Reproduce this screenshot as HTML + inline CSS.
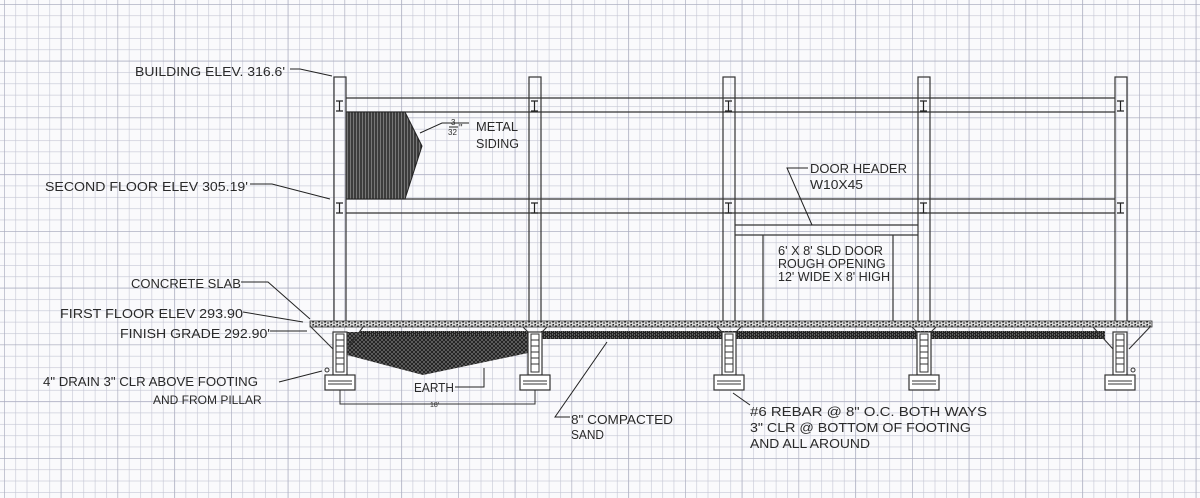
<!DOCTYPE html>
<html><head><meta charset="utf-8"><style>
html,body{margin:0;padding:0;background:#fff}
svg{display:block}
text{font-family:"Liberation Sans",sans-serif;fill:#2a2a2a;font-size:12.5px}
</style></head><body>
<svg width="1200" height="498" viewBox="0 0 1200 498" xmlns="http://www.w3.org/2000/svg">
<defs>
<pattern id="g" x="4" y="4" width="11.35" height="11.35" patternUnits="userSpaceOnUse">
<path d="M0 0H11.35M0 0V11.35" stroke="#c4c6d4" stroke-width="1.2" fill="none"/>
</pattern>
<pattern id="G" x="4" y="4" width="56.75" height="56.75" patternUnits="userSpaceOnUse">
<path d="M0 0H56.75M0 0V56.75" stroke="#a8aabd" stroke-width="1.2" fill="none"/>
</pattern>
<pattern id="vh" width="3" height="10" patternUnits="userSpaceOnUse">
<rect width="3" height="10" fill="#777"/><path d="M1 0V10" stroke="#222" stroke-width="1.4"/>
</pattern>
<pattern id="earth" width="4" height="4" patternUnits="userSpaceOnUse">
<rect width="4" height="4" fill="#6a6a6a"/><path d="M0 0L4 4M4 0L0 4" stroke="#1a1a1a" stroke-width="0.9"/>
</pattern>
<pattern id="conc" width="6" height="3" patternUnits="userSpaceOnUse">
<rect width="6" height="3" fill="#d8d8d8"/><path d="M0 1H2M3 2H5M1 0.5h1" stroke="#222" stroke-width="1"/>
</pattern>
<pattern id="sand" width="4" height="3" patternUnits="userSpaceOnUse">
<rect width="4" height="3" fill="#222"/><path d="M0 1H1M2 2H3" stroke="#ccc" stroke-width="0.8"/>
</pattern>
<g id="col"><rect x="0" y="0" width="12" height="245" fill="none" stroke="#333" stroke-width="1.2"/>
<path d="M2 24H9M5.5 24V34M2 34H9M2 126H9M5.5 126V136M2 136H9" stroke="#222" stroke-width="1.2"/></g>
<g id="pier"><rect x="0" y="0" width="14" height="43" fill="#fff" stroke="#333" stroke-width="1.2"/>
<rect x="3" y="2" width="8" height="38" fill="none" stroke="#333"/>
<path d="M3 8H11M3 14H11M3 20H11M3 26H11M3 32H11" stroke="#333"/>
<rect x="-8" y="43" width="30" height="15" fill="#fff" stroke="#333" stroke-width="1.2"/>
<path d="M-5 49H19M-5 52H19" stroke="#333"/></g>
</defs>
<rect width="1200" height="498" fill="#fafafc"/>
<rect width="1200" height="498" fill="url(#g)"/>
<rect width="1200" height="498" fill="url(#G)"/>

<g stroke="#333" stroke-width="1.2">
<path d="M346 98H1115M346 112H1115M346 199H1115M346 213H1115"/>
<path d="M735 225H918M735 235H918M763 235V321M893 235V321"/>
</g>
<path d="M346 112H405L422 146L405 199H346Z" fill="url(#vh)" stroke="#222"/>
<use href="#col" x="334" y="77"/>
<use href="#col" x="529" y="77"/>
<use href="#col" x="723" y="77"/>
<use href="#col" x="918" y="77"/>
<use href="#col" x="1115" y="77"/>

<path d="M347 332H528V353L423 375L347 355Z" fill="url(#earth)"/>
<rect x="541" y="331" width="564" height="8" fill="url(#sand)"/>
<rect x="360" y="331" width="168" height="5" fill="url(#sand)"/>
<rect x="310" y="321" width="842" height="6" fill="url(#conc)" stroke="#333" stroke-width="0.8"/>
<g stroke="#333" stroke-width="1.1" fill="none">
<path d="M311 327L333 349M363 327L347 349"/>
<path d="M1093 327L1113 349M1150 327L1129 349"/>
<path d="M523 327L529 333M547 327L541 333M717 327L723 333M741 327L735 333M912 327L918 333M936 327L930 333"/>
</g>
<use href="#pier" x="333" y="332"/>
<use href="#pier" x="528" y="332"/>
<use href="#pier" x="722" y="332"/>
<use href="#pier" x="917" y="332"/>
<use href="#pier" x="1113" y="332"/>
<circle cx="327" cy="370" r="2" fill="none" stroke="#333"/>
<circle cx="1133" cy="370" r="2" fill="none" stroke="#333"/>

<path d="M340 390V404H535V390" stroke="#333" fill="none"/>
<text x="430" y="407" style="font-size:7px">18'</text>

<g stroke="#222" stroke-width="1" fill="none">
<path d="M290 69H300L332 76"/>
<path d="M250 184H272L330 199"/>
<path d="M241 282H268L310 319"/>
<path d="M243 312L303 322"/>
<path d="M270 331H307"/>
<path d="M279 382L322 371"/>
<path d="M469 123H442L420 133"/>
<path d="M808 168H787L812 225"/>
<path d="M455 387H484V368"/>
<path d="M570 417H555L607 342"/>
<path d="M750 405L733 393"/>
</g>

<text x="135" y="76" textLength="150" lengthAdjust="spacingAndGlyphs">BUILDING ELEV. 316.6'</text>
<text x="45" y="191" textLength="203" lengthAdjust="spacingAndGlyphs">SECOND FLOOR ELEV 305.19'</text>
<text x="131" y="288" textLength="110" lengthAdjust="spacingAndGlyphs">CONCRETE SLAB</text>
<text x="60" y="318" textLength="183" lengthAdjust="spacingAndGlyphs">FIRST FLOOR ELEV 293.90</text>
<text x="120" y="338" textLength="150" lengthAdjust="spacingAndGlyphs">FINISH GRADE 292.90'</text>
<text x="43" y="386" textLength="215" lengthAdjust="spacingAndGlyphs">4" DRAIN 3" CLR ABOVE FOOTING</text>
<text x="153" y="404" style="font-size:12px">AND FROM PILLAR</text>
<text x="451" y="125" style="font-size:8px">3</text>
<path d="M449 127H458" stroke="#222"/>
<text x="448" y="135" style="font-size:8px">32</text>
<text x="459" y="131" style="font-size:10px">"</text>
<text x="476" y="131" textLength="42" lengthAdjust="spacingAndGlyphs">METAL</text>
<text x="476" y="148" textLength="43" lengthAdjust="spacingAndGlyphs">SIDING</text>
<text x="810" y="173" textLength="97" lengthAdjust="spacingAndGlyphs">DOOR HEADER</text>
<text x="810" y="189" textLength="53" lengthAdjust="spacingAndGlyphs">W10X45</text>
<g style="font-size:10.5px">
<text x="778" y="255" textLength="105" lengthAdjust="spacingAndGlyphs">6' X 8' SLD DOOR</text>
<text x="778" y="268">ROUGH OPENING</text>
<text x="778" y="281" textLength="112" lengthAdjust="spacingAndGlyphs">12' WIDE X 8' HIGH</text>
</g>
<text x="414" y="392" textLength="40" lengthAdjust="spacingAndGlyphs">EARTH</text>
<text x="571" y="424" textLength="102" lengthAdjust="spacingAndGlyphs">8" COMPACTED</text>
<text x="571" y="439" textLength="33" lengthAdjust="spacingAndGlyphs">SAND</text>
<text x="750" y="416" textLength="237" lengthAdjust="spacingAndGlyphs">#6 REBAR @ 8" O.C. BOTH WAYS</text>
<text x="750" y="432" textLength="221" lengthAdjust="spacingAndGlyphs">3" CLR @ BOTTOM OF FOOTING</text>
<text x="750" y="448" textLength="120" lengthAdjust="spacingAndGlyphs">AND ALL AROUND</text>
</svg>
</body></html>
